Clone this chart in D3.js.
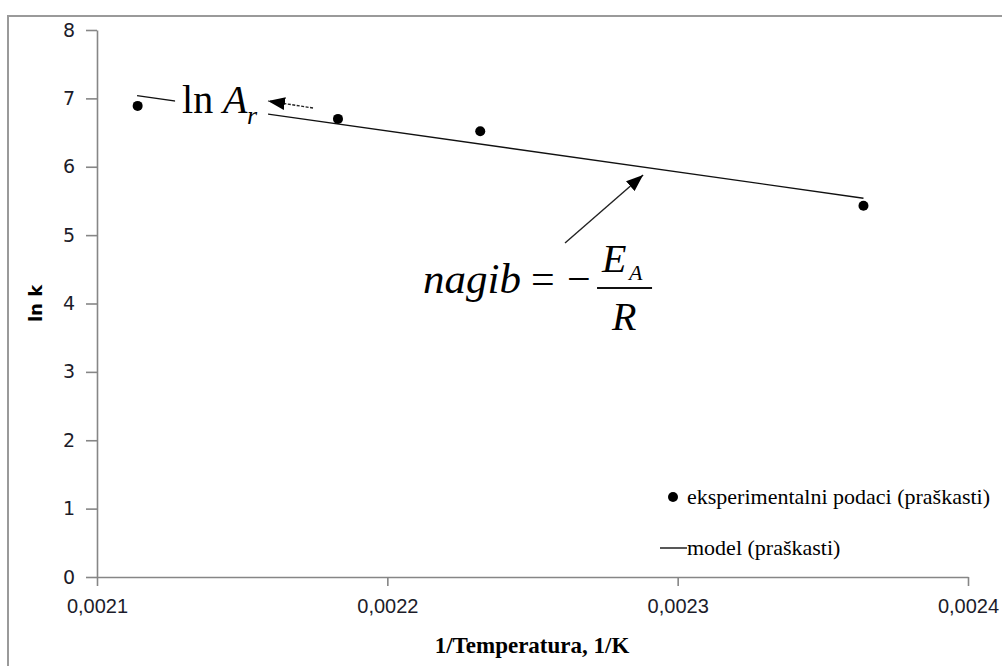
<!DOCTYPE html>
<html>
<head>
<meta charset="utf-8">
<script src="https://cdn.jsdelivr.net/npm/d3@7"></script>
<style>
	body { margin: 0; background: #fff; }
	svg { display: block; }
</style>
</head>
<body>
<div id="chart"></div>
<script>
// data
const xTicks = [0.0021, 0.0022, 0.0023, 0.0024]
const yTicks = [0, 1, 2, 3, 4, 5, 6, 7, 8]
const invT = [0.002114, 0.002183, 0.002232, 0.002364]
const lnk = [6.89, 6.70, 6.52, 5.43]
const modelX = [0.0021138, 0.002364]
const modelY = [7.04, 5.54]
const legendLabels = ['eksperimentalni podaci (praškasti)', 'model (praškasti)']

const W = 1002, H = 666
const margin = { top: 30, left: 97 }
const width = 871, height = 547

const svg = d3.select('#chart').append('svg')
	.attr('width', W)
	.attr('height', H)

svg.append('defs').append('marker')
	.attr('id', 'head')
	.attr('viewBox', '0 0 10 10')
	.attr('refX', 10).attr('refY', 5)
	.attr('markerWidth', 17).attr('markerHeight', 13)
	.attr('markerUnits', 'userSpaceOnUse')
	.attr('orient', 'auto')
	.attr('preserveAspectRatio', 'none')
	.append('path').attr('d', 'M0,0L10,5L0,10Z').attr('fill', '#000')

// outer frame
svg.append('rect')
	.attr('x', 8).attr('y', 16)
	.attr('width', W).attr('height', H)
	.attr('fill', 'none')
	.attr('stroke', '#9a9a9a')
	.attr('stroke-width', 2)

const x = d3.scaleLinear().domain([0.0021, 0.0024]).range([0, width])
const y = d3.scaleLinear().domain([0, 8]).range([height, 0])

const g = svg.append('g')
	.attr('transform', 'translate(' + margin.left + ',' + margin.top + ')')

const fmt = d => d3.format('.4f')(d).replace('.', ',')

const gx = g.append('g')
	.attr('class', 'axis axis--x')
	.attr('transform', 'translate(0,' + height + ')')
	.call(d3.axisBottom(x).tickValues(xTicks).tickFormat(fmt).tickSize(9).tickSizeOuter(0))

const gy = g.append('g')
	.attr('class', 'axis axis--y')
	.call(d3.axisLeft(y).tickValues(yTicks).tickSize(11).tickSizeOuter(0))

g.selectAll('.axis path, .axis line')
	.attr('stroke', '#868686')
	.attr('stroke-width', 1.6)

gx.selectAll('text')
	.attr('font-family', '"Liberation Sans", Arial, sans-serif')
	.attr('font-size', 20)
	.attr('fill', '#1c1c2a')
	.attr('y', 22)
	.attr('dy', '0.71em')

gy.selectAll('text')
	.attr('font-family', '"DejaVu Sans", Verdana, sans-serif')
	.attr('font-size', 19)
	.attr('fill', '#1c1c2a')
	.attr('x', -22)

// axis titles
svg.append('text')
	.attr('x', 532).attr('y', 653)
	.attr('text-anchor', 'middle')
	.attr('font-family', '"Liberation Serif", "Times New Roman", serif')
	.attr('font-weight', 'bold')
	.attr('font-size', 23)
	.text('1/Temperatura, 1/K')

svg.append('text')
	.attr('transform', 'translate(42,' + (margin.top + y(4)) + ') rotate(-90)')
	.attr('text-anchor', 'middle')
	.attr('font-family', '"DejaVu Sans", Verdana, sans-serif')
	.attr('font-weight', 'bold')
	.attr('font-size', 18)
	.text('ln k')

// model line
const modelData = modelX.map((d, i) => [d, modelY[i]])
g.append('path')
	.datum(modelData)
	.attr('fill', 'none')
	.attr('stroke', '#111')
	.attr('stroke-width', 1.4)
	.attr('d', d3.line().x(d => x(d[0])).y(d => y(d[1])))

// experimental points
g.selectAll('.dot')
	.data(invT.map((d, i) => [d, lnk[i]]))
	.enter().append('circle')
	.attr('class', 'dot')
	.attr('cx', d => x(d[0]))
	.attr('cy', d => y(d[1]))
	.attr('r', 5)
	.attr('fill', '#000')

// ln A_r annotation (white box hides the line under it)
const serif = '"Liberation Serif", "Times New Roman", serif'
const lnA = g.append('g')
	.attr('transform', 'translate(' + x(0.0021293) + ',' + y(6.786) + ')')
lnA.append('rect')
	.attr('x', -7).attr('y', -33)
	.attr('width', 93).attr('height', 45)
	.attr('fill', '#fff')
lnA.append('text').attr('font-family', serif).attr('font-size', 40).text('ln')
lnA.append('text').attr('x', 41).attr('font-family', serif).attr('font-style', 'italic').attr('font-size', 40).text('A')
lnA.append('text').attr('x', 65).attr('y', 11).attr('font-family', serif).attr('font-style', 'italic').attr('font-size', 26).text('r')

g.append('line')
	.attr('x1', x(0.0021744)).attr('y1', y(6.859))
	.attr('x2', x(0.0021589)).attr('y2', y(6.962))
	.attr('stroke', '#222')
	.attr('stroke-width', 1.4)
	.attr('stroke-dasharray', '3,1.5')
	.attr('marker-end', 'url(#head)')

// slope annotation
g.append('line')
	.attr('x1', x(0.0022612)).attr('y1', y(4.885))
	.attr('x2', x(0.0022881)).attr('y2', y(5.879))
	.attr('stroke', '#222')
	.attr('stroke-width', 1.4)
	.attr('marker-end', 'url(#head)')

const eq = g.append('g')
	.attr('transform', 'translate(' + x(0.0022123) + ',' + y(4.154) + ')')
	.attr('font-family', serif)
eq.append('text').attr('font-style', 'italic').attr('font-size', 43).text('nagib')
eq.append('text').attr('x', 108).attr('font-size', 42).text('=')
eq.append('text').attr('x', 144).attr('font-size', 42).text('\u2212')
eq.append('line')
	.attr('x1', 174).attr('x2', 229)
	.attr('y1', -5).attr('y2', -5)
	.attr('stroke', '#111').attr('stroke-width', 2)
eq.append('text').attr('x', 179).attr('y', -21).attr('font-style', 'italic').attr('font-size', 40).text('E')
eq.append('text').attr('x', 206).attr('y', -13).attr('font-style', 'italic').attr('font-size', 22).text('A')
eq.append('text').attr('x', 189).attr('y', 37).attr('font-style', 'italic').attr('font-size', 40).text('R')

// legend
const leg = svg.append('g').attr('font-family', serif).attr('font-size', 22)
leg.append('circle').attr('cx', 673).attr('cy', 497).attr('r', 5).attr('fill', '#000')
leg.append('text').attr('x', 687).attr('y', 497).attr('dy', '0.33em').text(legendLabels[0])
leg.append('line').attr('x1', 660).attr('x2', 687).attr('y1', 548).attr('y2', 548).attr('stroke', '#111').attr('stroke-width', 1.4)
leg.append('text').attr('x', 687).attr('y', 548).attr('dy', '0.33em').text(legendLabels[1])
</script>
</body>
</html>
